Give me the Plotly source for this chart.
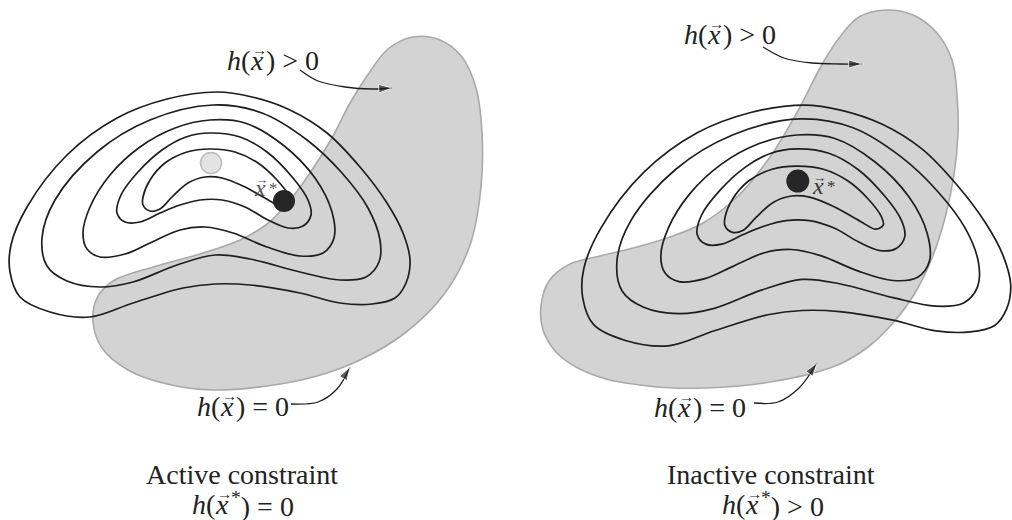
import plotly.graph_objects as go

# level sets of the objective (function coordinates = left panel pixels)
c1_x = [217, 252, 290, 327, 360, 387, 403, 410, 406, 395, 372, 340, 300, 250, 215, 183, 133, 90, 50, 20, 10, 11, 27, 67, 117, 167]
c1_y = [92, 97, 110, 133, 167, 203, 233, 260, 283, 298, 304, 303, 293, 285, 284, 288, 303, 317, 312, 297, 272, 245, 207, 155, 118, 99]
c2_x = [213, 262, 307, 342, 368, 380, 379, 366, 340, 300, 250, 215, 177, 133, 100, 67, 47, 42, 55, 97, 150]
c2_y = [105, 113, 140, 173, 208, 240, 262, 277, 280, 272, 259, 255, 265, 282, 287, 281, 266, 238, 200, 152, 120]
c3_x = [210, 245, 283, 315, 332, 334, 323, 300, 267, 233, 205, 180, 150, 125, 100, 87, 83, 90, 110, 140, 175]
c3_y = [120, 123, 145, 178, 212, 238, 253, 256, 247, 233, 227, 230, 243, 254, 257, 249, 233, 207, 175, 147, 128]
c4_x = [210, 240, 267, 293, 308, 311, 303, 288, 268, 245, 222, 200, 180, 160, 140, 125, 117, 121, 138, 162, 186]
c4_y = [133, 137, 152, 178, 200, 215, 226, 228, 220, 207, 200, 200, 205, 213, 222, 222, 213, 195, 172, 150, 137]
c5_x = [210, 235, 258, 277, 289, 291, 284, 270, 245, 222, 205, 188, 172, 160, 150, 143, 143, 150, 165, 187]
c5_y = [149, 152, 163, 180, 196, 204, 208, 201, 187, 178, 177, 183, 197, 209, 211, 205, 197, 180, 163, 152]
contours = [(c1_x, c1_y), (c2_x, c2_y), (c3_x, c3_y), (c4_x, c4_y), (c5_x, c5_y)]

# unconstrained minimum and constrained optimum (function coordinates)
x_min = [211]
y_min = [163]
x_opt_active = [284]
y_opt_active = [201]

# feasible regions h(x) >= 0 (pixel coordinates of each panel)
regL_x = [413, 440, 462, 476, 482, 481, 470, 445, 405, 360, 317, 267, 213, 167, 128, 102, 93, 97, 113, 153, 200, 240, 267, 286, 310, 332, 350, 367, 388]
regL_y = [37, 40, 57, 88, 133, 187, 245, 293, 333, 360, 376, 386, 390, 384, 370, 348, 322, 298, 281, 267, 254, 240, 224, 205, 173, 138, 103, 76, 49]
regR_x = [886, 913, 937, 952, 957, 958, 954, 945, 932, 915, 893, 868, 840, 806, 770, 739, 705, 673, 640, 606, 576, 556, 543, 541, 549, 570, 600, 637, 670, 703, 737, 770, 800, 820, 839, 859]
regR_y = [10, 15, 33, 60, 95, 133, 175, 218, 258, 293, 323, 347, 364, 375, 382, 386, 388, 388, 385, 379, 367, 352, 330, 306, 281, 264, 256, 247, 237, 223, 197, 157, 107, 68, 38, 17]

# label arrows (pixel coordinates)
arrL_up_x = [300, 318, 345, 372, 392]
arrL_up_y = [70, 81, 87, 89, 88]
arrL_dn_x = [291, 318, 337, 350]
arrL_dn_y = [404, 402, 389, 367]
arrR_up_x = [763, 784, 812, 840, 862]
arrR_up_y = [47, 58, 63, 64, 64]
arrR_dn_x = [754, 778, 799, 817]
arrR_dn_y = [403, 402, 388, 363]

# labels: (x of the vector symbol, y, text before, text after, axis)
vec_labels = [
    (257, 60, "<i>h</i>(", ") &gt; 0", "x"),
    (227, 406, "<i>h</i>(", ") = 0", "x"),
    (222, 504, "<i>h</i>(", "<sup>*</sup>) = 0", "x"),
    (714, 34, "<i>h</i>(", ") &gt; 0", "x2"),
    (684, 407, "<i>h</i>(", ") = 0", "x2"),
    (752, 504, "<i>h</i>(", "<sup>*</sup>) &gt; 0", "x2"),
]
captions = [(242, 474, "Active constraint", "x"), (771, 474, "Inactive constraint", "x2")]

SCALE = 1.07          # right panel drawn a bit larger
OFF_X, OFF_Y = 572, 6.6

FILL = "#d3d3d3"
EDGE = "#a9a9a9"
INK = "#1e1e1e"
FONT = "Liberation Serif, DejaVu Serif, serif"
FS = 28


def closed(v):
    return list(v) + [v[0]]


def add_vec(fig, X, Y, pre, post, xr, size=FS, color="#222222"):
    # x with a small arrow on top, built from separate pieces
    yr = xr.replace("x", "y")
    f = dict(family=FONT, size=size, color=color)
    wx = 0.46 * size
    fig.add_annotation(x=X, y=Y, xref=xr, yref=yr, text="<i>x</i>", showarrow=False,
                       font=f, xanchor="center", yanchor="middle")
    fig.add_annotation(x=X + 0.08 * size, y=Y - 0.36 * size, xref=xr, yref=yr, text="→",
                       showarrow=False, font=dict(family=FONT, size=size * 0.55, color=color),
                       xanchor="center", yanchor="middle")
    if pre:
        fig.add_annotation(x=X - wx / 2, y=Y, xref=xr, yref=yr, text=pre, showarrow=False,
                           font=f, xanchor="right", yanchor="middle", xshift=1)
    if post:
        fig.add_annotation(x=X + wx / 2, y=Y, xref=xr, yref=yr, text=post, showarrow=False,
                           font=f, xanchor="left", yanchor="middle", xshift=1)


fig = go.Figure()

# ---- left panel: active constraint
fig.add_trace(go.Scatter(x=closed(regL_x), y=closed(regL_y), mode="lines",
                         fill="toself", fillcolor=FILL,
                         line=dict(color=EDGE, width=1.6, shape="spline", smoothing=1),
                         hoverinfo="skip", xaxis="x", yaxis="y"))
for cx, cy in contours:
    fig.add_trace(go.Scatter(x=closed(cx), y=closed(cy), mode="lines",
                             line=dict(color=INK, width=1.7, shape="spline", smoothing=1),
                             hoverinfo="skip", xaxis="x", yaxis="y"))
fig.add_trace(go.Scatter(x=x_min, y=y_min, mode="markers",
                         marker=dict(size=21, color="#e3e3e3", line=dict(color="#bdbdbd", width=1.5)),
                         hoverinfo="skip", xaxis="x", yaxis="y"))
fig.add_trace(go.Scatter(x=x_opt_active, y=y_opt_active, mode="markers",
                         marker=dict(size=22, color="#262626"),
                         hoverinfo="skip", xaxis="x", yaxis="y"))

# ---- right panel: inactive constraint
fig.add_trace(go.Scatter(x=closed(regR_x), y=closed(regR_y), mode="lines",
                         fill="toself", fillcolor=FILL,
                         line=dict(color=EDGE, width=1.6, shape="spline", smoothing=1),
                         hoverinfo="skip", xaxis="x2", yaxis="y2"))
for cx, cy in contours:
    fig.add_trace(go.Scatter(x=closed(cx), y=closed(cy), mode="lines",
                             line=dict(color=INK, width=1.7, shape="spline", smoothing=1),
                             hoverinfo="skip", xaxis="x3", yaxis="y3"))
fig.add_trace(go.Scatter(x=x_min, y=y_min, mode="markers",
                         marker=dict(size=23, color="#262626"),
                         hoverinfo="skip", xaxis="x3", yaxis="y3"))

# ---- curved arrows
for ax_, ay_, xa, ya in [(arrL_up_x, arrL_up_y, "x", "y"), (arrL_dn_x, arrL_dn_y, "x", "y"),
                         (arrR_up_x, arrR_up_y, "x2", "y2"), (arrR_dn_x, arrR_dn_y, "x2", "y2")]:
    sizes = [0] * (len(ax_) - 1) + [14]
    fig.add_trace(go.Scatter(x=ax_, y=ay_, mode="lines+markers",
                             line=dict(color=INK, width=1.3, shape="spline"),
                             marker=dict(symbol="arrow", size=sizes, angleref="previous", color=INK),
                             hoverinfo="skip", xaxis=xa, yaxis=ya))

for X, Y, pre, post, xr in vec_labels:
    add_vec(fig, X, Y, pre, post, xr)
for x, y, t, xr in captions:
    fig.add_annotation(x=x, y=y, xref=xr, yref=xr.replace("x", "y"), text=t, showarrow=False,
                       font=dict(family=FONT, size=FS, color="#222222"),
                       xanchor="center", yanchor="middle")

# x* next to the optimum
add_vec(fig, 260, 188, "", "<sup>*</sup>", "x", size=24, color="#555555")
add_vec(fig, 818, 186, "", "<sup>*</sup>", "x2", size=24, color="#333333")

hidden = dict(visible=False, showgrid=False, zeroline=False, fixedrange=True)
fig.update_layout(
    width=1012, height=520,
    margin=dict(l=0, r=0, t=0, b=0),
    paper_bgcolor="white", plot_bgcolor="rgba(0,0,0,0)",
    showlegend=False,
    xaxis=dict(domain=[0, 0.5], range=[0, 506], anchor="y", **hidden),
    yaxis=dict(domain=[0, 1], range=[520, 0], anchor="x", **hidden),
    xaxis2=dict(domain=[0.5, 1], range=[506, 1012], anchor="y2", **hidden),
    yaxis2=dict(domain=[0, 1], range=[520, 0], anchor="x2", **hidden),
    xaxis3=dict(overlaying="x2", anchor="y3",
                range=[(506 - OFF_X) / SCALE, (1012 - OFF_X) / SCALE], **hidden),
    yaxis3=dict(overlaying="y2", anchor="x3",
                range=[(520 - OFF_Y) / SCALE, (0 - OFF_Y) / SCALE], **hidden),
)

fig.write_html("out.html", config={"displayModeBar": False},
               post_script="document.body.style.margin='0px';")
